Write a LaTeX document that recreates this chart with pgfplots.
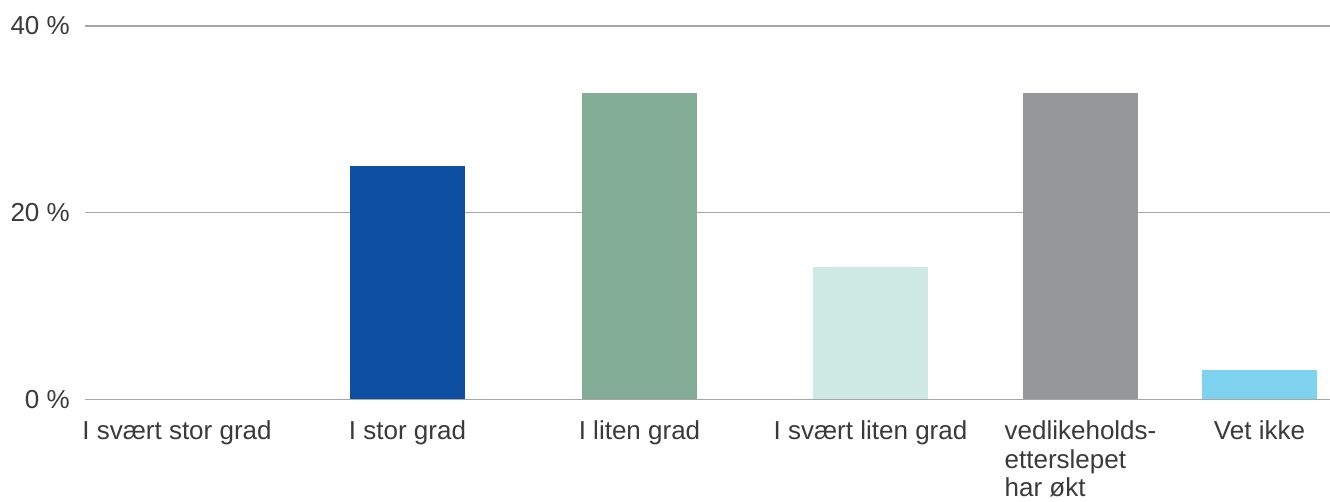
\documentclass[border=0pt]{standalone}
\usepackage{pgfplots}
\pgfplotsset{compat=1.18}
\usepackage{fontspec}
\setmainfont{Liberation Sans}

\definecolor{barblue}{HTML}{0E4FA1}
\definecolor{bargreen}{HTML}{84AD98}
\definecolor{barmint}{HTML}{CFE9E4}
\definecolor{bargray}{HTML}{96979B}
\definecolor{barsky}{HTML}{7DD2ED}
\definecolor{gridgray}{HTML}{A6A6A6}
\definecolor{labeltext}{HTML}{3A3A3A}

\begin{document}
\begin{tikzpicture}
\begin{axis}[
  scale only axis,
  width=1245pt, height=373.5pt,
  xmin=85, xmax=1330,
  ymin=0, ymax=40,
  axis line style={draw=none},
  ymajorgrids,
  major grid style={color=gridgray, line width=1.3pt},
  ytick={0,20,40},
  yticklabels={0 \%, 20 \%, 40 \%},
  xtick={177,407.5,639.5,870.5,1080.5,1259.5},
  xticklabels={I svært stor grad, I stor grad, I liten grad, I svært liten grad,
               {vedlikeholds-\\etterslepet\\har økt}, Vet ikke},
  major tick length=0pt,
  tick style={draw=none},
  tick label style={font=\fontsize{26}{28.5}\selectfont, text=labeltext},
  yticklabel style={anchor=east, inner sep=0pt, xshift=-15pt},
  xticklabel style={anchor=north, inner sep=0pt, yshift=-21pt, align=left},
  bar width=115,
  every axis plot/.append style={ybar, bar shift=0pt, draw=none},
]
% zero share: nothing visible is drawn
\addplot[fill=none]     coordinates {(177,0)};
\addplot[fill=barblue]  coordinates {(407.5,25.0)};
\addplot[fill=bargreen] coordinates {(639.5,32.8)};
\addplot[fill=barmint]  coordinates {(870.5,14.2)};
\addplot[fill=bargray]  coordinates {(1080.5,32.8)};
\addplot[fill=barsky]   coordinates {(1259.5,3.2)};
\end{axis}
\pgfresetboundingbox
\path (current axis.south west) ++(-85pt,-102pt) coordinate (bbsw);
\path (current axis.north east) ++(0pt,26pt) coordinate (bbne);
\useasboundingbox (bbsw) rectangle (bbne);
\end{tikzpicture}
\end{document}
